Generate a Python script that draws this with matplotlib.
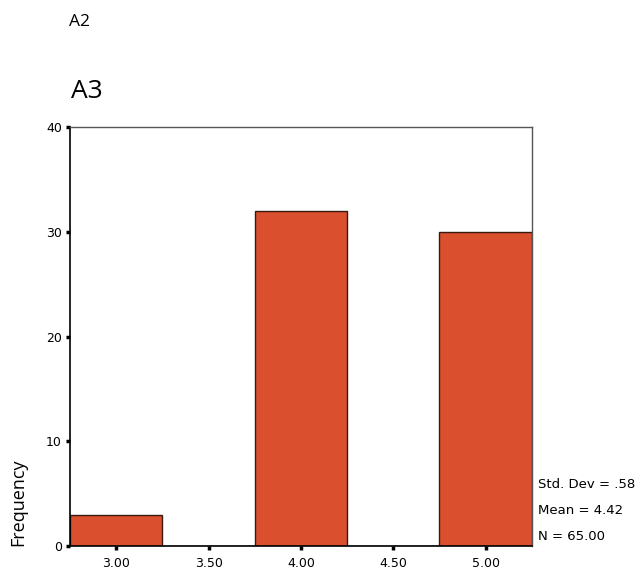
import matplotlib
matplotlib.use("Agg")
import matplotlib.pyplot as plt

# histogram of A3
bin_centers = [3.0, 3.5, 4.0, 4.5, 5.0]
frequencies = [3, 0, 32, 0, 30]
tick_labels = ["3.00", "3.50", "4.00", "4.50", "5.00"]
y_ticks = [0, 10, 20, 30, 40]
stats_lines = ["Std. Dev = .58", "Mean = 4.42", "N = 65.00"]

BAR_COLOR = "#da4f2d"
EDGE_COLOR = "#3a1a10"


def main():
    fig = plt.figure(figsize=(6.43, 5.78), dpi=100)
    ax = fig.add_axes([0.109, 0.055, 0.718, 0.725])

    ax.bar(bin_centers, frequencies, width=0.5, color=BAR_COLOR,
           edgecolor=EDGE_COLOR, linewidth=1.0, zorder=2)

    ax.set_xlim(2.75, 5.25)
    ax.set_ylim(0, 40)
    ax.set_xticks(bin_centers)
    ax.set_xticklabels(tick_labels)
    ax.set_yticks(y_ticks)

    ax.tick_params(axis="both", direction="out", length=3, width=2.5,
                   labelsize=9, colors="black", pad=5)
    ax.tick_params(axis="y", pad=3)

    for side in ["left", "bottom"]:
        ax.spines[side].set_color("black")
        ax.spines[side].set_linewidth(1.2)
    for side in ["top", "right"]:
        ax.spines[side].set_color("#555555")
        ax.spines[side].set_linewidth(1.0)

    # stats box text at the right of the plot
    for i, line in enumerate(stats_lines):
        fig.text(538 / 643, 1 - (485 + 26 * i) / 578, line, fontsize=9.5,
                 va="center", ha="left")

    fig.text(18 / 643, 1 - 502 / 578, "Frequency", rotation=90,
             fontsize=13, va="center", ha="center", family="Open Sans")
    fig.text(69 / 643, 1 - 22 / 578, "A2", fontsize=12.5, va="center",
             ha="left", family="Open Sans")
    fig.text(71 / 643, 1 - 92 / 578, "A3", fontsize=19, va="center",
             ha="left", family="Open Sans")

    fig.savefig("out.png", dpi=100)


if __name__ == "__main__":
    main()
